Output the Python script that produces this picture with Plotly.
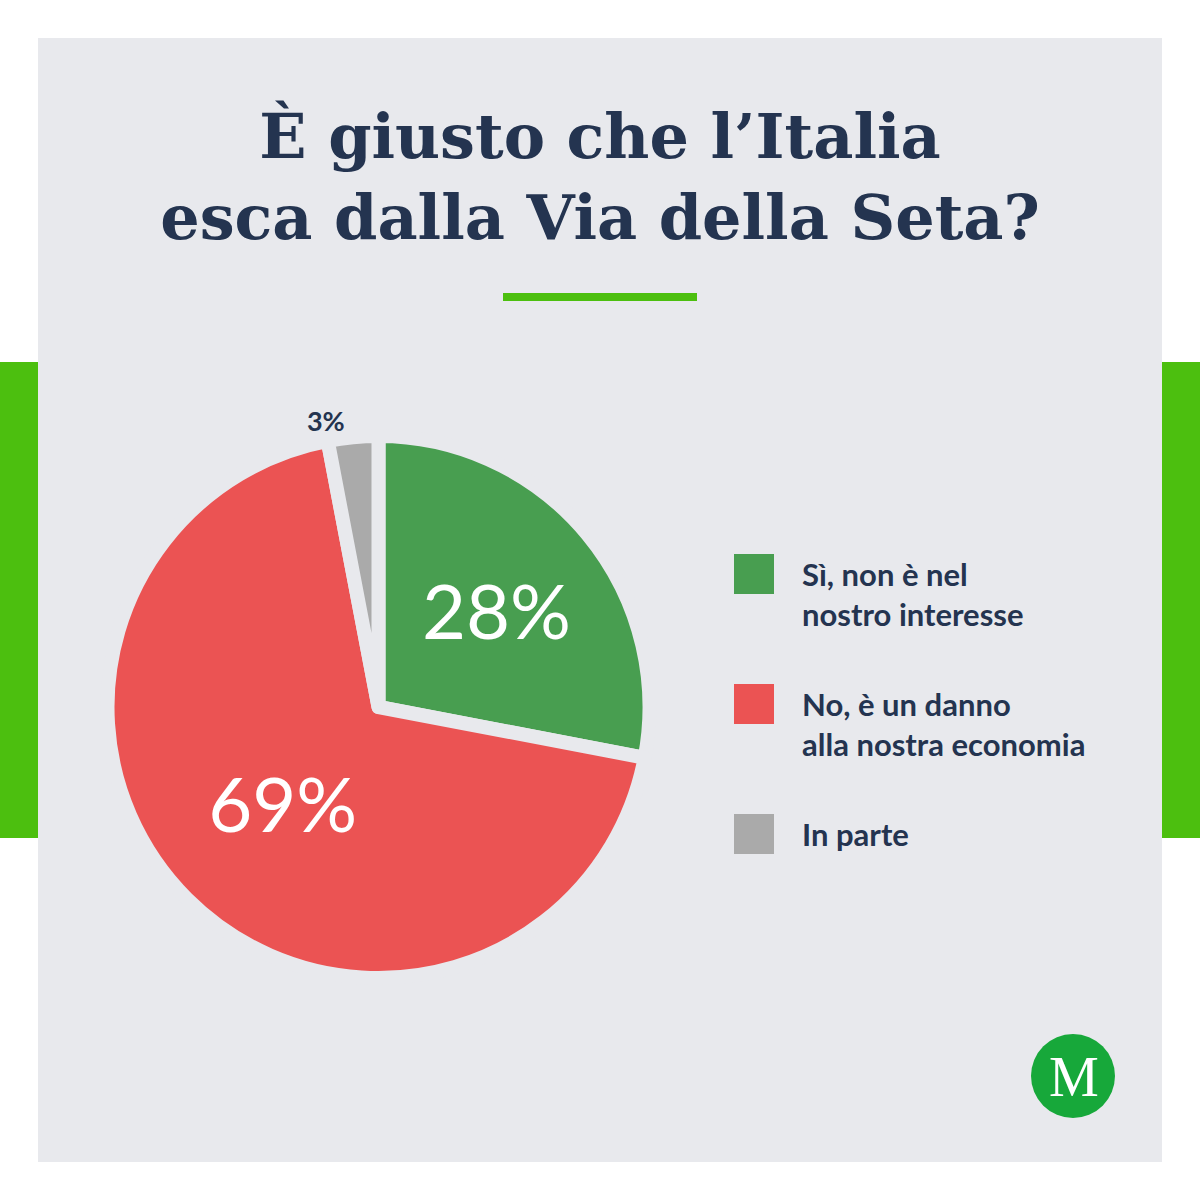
import plotly.graph_objects as go

# ---- data ----
categories = ["Sì, non è nel<br>nostro interesse", "No, è un danno<br>alla nostra economia", "In parte"]
values = [28, 69, 3]
colors = ["#489e50", "#eb5353", "#aaaaaa"]
title_text = "È giusto che l’Italia<br>esca dalla Via della Seta?"

# ---- style constants ----
W = H = 1200
PANEL = "#e8e9ed"
BRIGHT = "#4cbf0f"
INK = "#243450"


def px_x(x):
    return x / W


def px_y(y):
    return 1 - y / H


fig = go.Figure()

# pie geometry in pixels (centre + radius incl. half stroke)
cx, cy, R = 378.5, 707, 271
fig.add_trace(go.Pie(
    labels=categories,
    values=values,
    sort=False,
    direction="clockwise",
    rotation=0,
    marker=dict(colors=colors, line=dict(color=PANEL, width=14)),
    texttemplate=["%{value}%", "%{value}%", "<b>%{value}%</b>"],
    textposition=["inside", "inside", "outside"],
    insidetextorientation="horizontal",
    textfont=dict(family="Lato", size=[76, 76, 27], color=["white", "white", INK]),
    domain=dict(x=[px_x(cx - R), px_x(cx + R)], y=[px_y(cy + R), px_y(cy - R)]),
    showlegend=False,
    hoverinfo="label+percent",
))

shapes = [
    # side green bars
    dict(type="rect", xref="paper", yref="paper", x0=0, x1=px_x(40), y0=px_y(838), y1=px_y(362),
         fillcolor=BRIGHT, line=dict(width=0), layer="below"),
    dict(type="rect", xref="paper", yref="paper", x0=px_x(1160), x1=1, y0=px_y(838), y1=px_y(362),
         fillcolor=BRIGHT, line=dict(width=0), layer="below"),
    # panel
    dict(type="rect", xref="paper", yref="paper", x0=px_x(38), x1=px_x(1162), y0=px_y(1162), y1=px_y(38),
         fillcolor=PANEL, line=dict(width=0), layer="below"),
    # underline
    dict(type="rect", xref="paper", yref="paper", x0=px_x(503), x1=px_x(697), y0=px_y(301), y1=px_y(293),
         fillcolor=BRIGHT, line=dict(width=0), layer="below"),
    # logo circle
    dict(type="circle", xref="paper", yref="paper", x0=px_x(1031), x1=px_x(1115), y0=px_y(1118), y1=px_y(1034),
         fillcolor="#17a83a", line=dict(width=0), layer="above"),
]

annotations = [
    dict(text="M", x=px_x(1074), y=px_y(1077), xref="paper", yref="paper", showarrow=False,
         font=dict(family="Liberation Serif", size=56, color="white"), xanchor="center", yanchor="middle"),
]

# custom legend with large square keys
leg_x, leg_top, leg_step, sq = 734, 554, 130, 40
for i, (lab, col) in enumerate(zip(categories, colors)):
    top = leg_top + i * leg_step
    shapes.append(dict(type="rect", xref="paper", yref="paper",
                       x0=px_x(leg_x), x1=px_x(leg_x + sq), y0=px_y(top + sq), y1=px_y(top),
                       fillcolor=col, line=dict(width=0)))
    annotations.append(dict(text="<b>" + lab.replace("<br>", "</b><br><b>") + "</b>",
                            x=px_x(800), y=px_y(top - 1), xref="paper", yref="paper",
                            xanchor="left", yanchor="top", align="left", showarrow=False,
                            font=dict(family="Lato", size=31, color=INK)))

fig.update_layout(
    width=W, height=H, autosize=False,
    margin=dict(l=0, r=0, t=0, b=0),
    paper_bgcolor="white", plot_bgcolor="white",
    title=dict(text="<b>" + title_text.replace("<br>", "</b><br><b>") + "</b>",
               x=0.5, xanchor="center", y=px_y(158), yanchor="middle", yref="paper",
               font=dict(family="DejaVu Serif", size=62, color=INK)),
    shapes=shapes,
    annotations=annotations,
)

fig.write_html("out.html", config={"displayModeBar": False},
               post_script="document.body.style.margin='0px';document.body.style.overflow='hidden';")
